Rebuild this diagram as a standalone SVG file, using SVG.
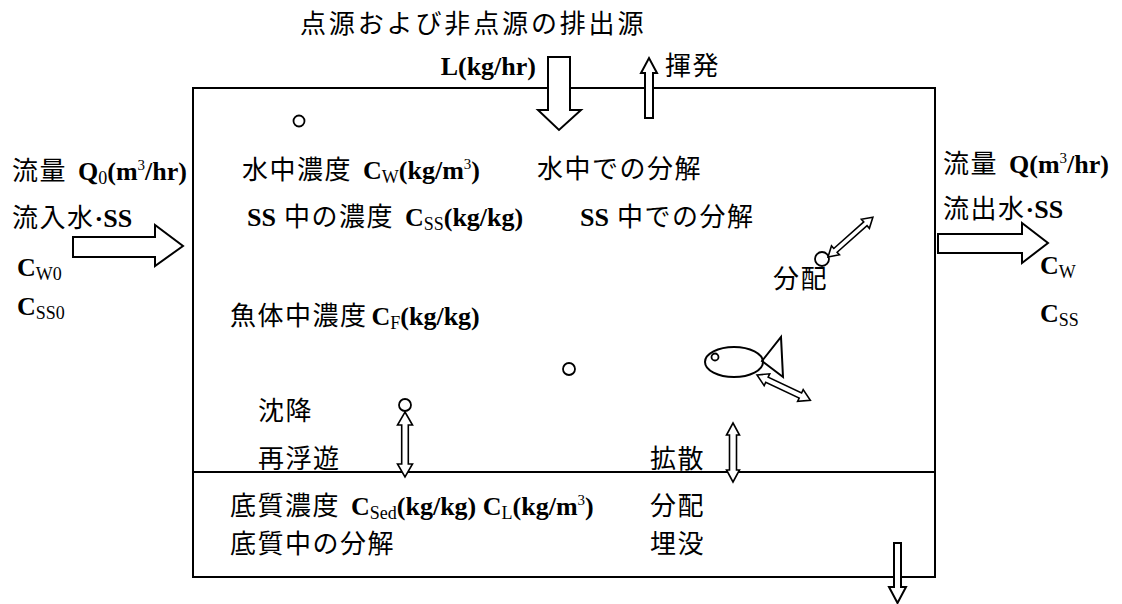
<svg xmlns="http://www.w3.org/2000/svg" width="1122" height="604" viewBox="0 0 1122 604">
  <style>
    text { font-family: "Liberation Serif", "Noto Sans CJK JP", serif; font-size: 26px; fill: #000; }
    .j { font-family: "Noto Sans CJK JP", "Liberation Serif", sans-serif; font-size: 26px; letter-spacing: 1.5px; font-weight: normal; }
    .b { font-weight: bold; }
    .sub { font-size: 18px; font-weight: normal; }
    .sup { font-size: 15px; font-weight: normal; }
    .line { fill: none; stroke: #000; stroke-width: 2; }
    .arrow { fill: #fff; stroke: #000; stroke-width: 2; stroke-linejoin: miter; }
    .darrow { fill: #fff; stroke: #000; stroke-width: 1.6; stroke-linejoin: miter; }
    .dot { fill: #fff; stroke: #000; stroke-width: 1.8; }
  </style>

  <!-- water body and sediment layer -->
  <g id="water-body">
    <rect class="line" x="193" y="88" width="742" height="489"/>
    <line class="line" x1="193" y1="472" x2="935" y2="472"/>
  </g>

  <g id="source">
    <text class="j" x="300" y="33" textLength="345">点源および非点源の排出源</text>
    <text class="b" x="536" y="75" text-anchor="end">L(kg/hr)</text>
  </g>

  <g id="volatilization">
    <text class="j" x="665" y="75">揮発</text>
  </g>

  <g id="inflow">
    <text x="12" y="180"><tspan class="j">流量</tspan><tspan class="b" dx="11">Q</tspan><tspan class="sub" dy="4">0</tspan><tspan class="b" dy="-4">(m</tspan><tspan class="sup" dy="-10">3</tspan><tspan class="b" dy="10">/hr)</tspan></text>
    <text x="12" y="227"><tspan class="j">流入水</tspan><tspan class="b">·SS</tspan></text>
    <text x="17" y="276"><tspan class="b">C</tspan><tspan class="sub" dy="4">W0</tspan></text>
    <text x="17" y="315"><tspan class="b">C</tspan><tspan class="sub" dy="4">SS0</tspan></text>
  </g>

  <g id="outflow">
    <text x="943" y="173"><tspan class="j">流量</tspan><tspan class="b" dx="11">Q(m</tspan><tspan class="sup" dy="-10">3</tspan><tspan class="b" dy="10">/hr)</tspan></text>
    <text x="943" y="218"><tspan class="j">流出水</tspan><tspan class="b">·SS</tspan></text>
    <text x="1040" y="274"><tspan class="b">C</tspan><tspan class="sub" dy="4">W</tspan></text>
    <text x="1040" y="322"><tspan class="b">C</tspan><tspan class="sub" dy="4">SS</tspan></text>
  </g>

  <g id="water-column">
    <circle class="dot" cx="299" cy="121" r="5.5"/>
    <text x="242" y="179"><tspan class="j">水中濃度</tspan><tspan class="b" dx="11">C</tspan><tspan class="sub" dy="4">W</tspan><tspan class="b" dy="-4">(kg/m</tspan><tspan class="sup" dy="-10">3</tspan><tspan class="b" dy="10">)</tspan></text>
    <text class="j" x="537" y="178">水中での分解</text>
    <text x="247" y="226"><tspan class="b">SS</tspan><tspan class="j" dx="8">中の濃度</tspan><tspan class="b" dx="11">C</tspan><tspan class="sub" dy="4">SS</tspan><tspan class="b" dy="-4">(kg/kg)</tspan></text>
    <text x="580" y="226"><tspan class="b">SS</tspan><tspan class="j" dx="8">中での分解</tspan></text>
  </g>

  <g id="partition-ss">
    <circle class="dot" cx="822" cy="259" r="7"/>
    <text class="j" x="773" y="288">分配</text>
  </g>

  <g id="fish">
    <text x="230" y="325"><tspan class="j">魚体中濃度</tspan><tspan class="b" dx="4">C</tspan><tspan class="sub" dy="4">F</tspan><tspan class="b" dy="-4">(kg/kg)</tspan></text>
    <circle class="dot" cx="569" cy="369" r="6"/>
    <ellipse class="line" cx="734" cy="362" rx="29" ry="15" stroke-width="1.8"/>
    <circle class="dot" cx="715" cy="357" r="3.5"/>
    <polygon class="line" points="762,361 781,337 783,377" stroke-width="1.8"/>
  </g>

  <g id="settling">
    <circle class="dot" cx="405" cy="405" r="6"/>
    <text class="j" x="258" y="420">沈降</text>
    <text class="j" x="258" y="468">再浮遊</text>
  </g>

  <g id="diffusion">
    <text class="j" x="650" y="468">拡散</text>
  </g>

  <g id="sediment">
    <text x="230" y="515"><tspan class="j">底質濃度</tspan><tspan class="b" dx="11">C</tspan><tspan class="sub" dy="4">Sed</tspan><tspan class="b" dy="-4">(kg/kg) C</tspan><tspan class="sub" dy="4">L</tspan><tspan class="b" dy="-4">(kg/m</tspan><tspan class="sup" dy="-10">3</tspan><tspan class="b" dy="10">)</tspan></text>
    <text class="j" x="650" y="515">分配</text>
    <text class="j" x="230" y="553">底質中の分解</text>
    <text class="j" x="650" y="553">埋没</text>
  </g>

  <!-- block arrows: transport in and out of the water body -->
  <g id="connectors">
    <polygon class="arrow" points="548,57 570,57 570,110 581,110 559,130 538,110 548,110"/>
    <polygon class="arrow" points="645,118 653,118 653,73 657,73 649,58 641,73 645,73"/>
    <polygon class="arrow" points="73,237 155,237 155,225 183,246 155,266 155,257 73,257"/>
    <polygon class="arrow" points="938,234 1022,234 1022,223 1048,243 1022,263 1022,253 938,253"/>
    <polygon class="arrow" points="894,543 901,543 901,587 906,587 897.5,603 889,587 894,587"/>
    <!-- exchange arrows (two-headed) -->
    <polygon class="darrow" transform="translate(828,257) rotate(-41.6)" points="0,0 10,-6 10,-2.5 50,-2.5 50,-6 60,0 50,6 50,2.5 10,2.5 10,6"/>
    <polygon class="darrow" transform="translate(757,375) rotate(25.3)" points="0,0 11,-6.5 11,-2.8 48,-2.8 48,-6.5 59,0 48,6.5 48,2.8 11,2.8 11,6.5"/>
    <polygon class="darrow" transform="translate(405,412) rotate(90)" points="0,0 13,-7.5 13,-3.3 52,-3.3 52,-7.5 65,0 52,7.5 52,3.3 13,3.3 13,7.5"/>
    <polygon class="darrow" transform="translate(733,423) rotate(90)" points="0,0 12,-6.5 12,-3.5 47,-3.5 47,-6.5 59,0 47,6.5 47,3.5 12,3.5 12,6.5"/>
  </g>
</svg>
